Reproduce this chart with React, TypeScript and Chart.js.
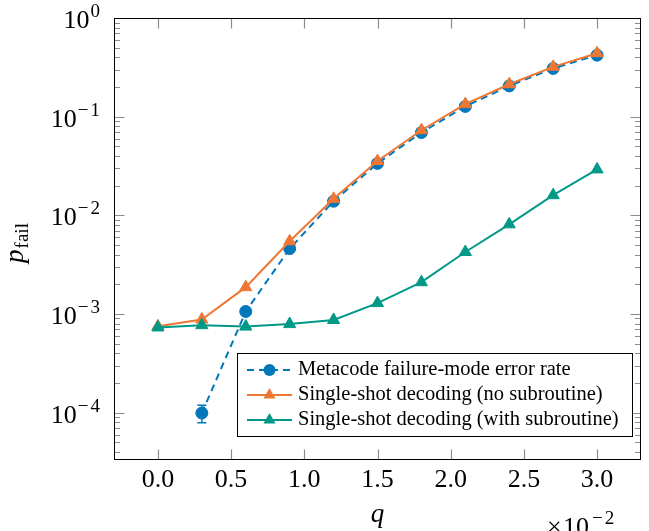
import React, { useEffect, useRef } from "react";
import { Chart, registerables } from "chart.js";

Chart.register(...registerables);

// ---- data ----
const qValues = [0, 0.3, 0.6, 0.9, 1.2, 1.5, 1.8, 2.1, 2.4, 2.7, 3.0];
const metacodeRate = [null, 9.9e-5, 1.06e-3, 4.6e-3, 1.39e-2, 3.36e-2, 6.9e-2, 0.127, 0.205, 0.308, 0.42];
const metacodeErr = [0, 2.0e-5, 0, 0, 0, 0, 0, 0, 0, 0, 0];
const noSubroutine = [7.5e-4, 8.8e-4, 1.87e-3, 5.45e-3, 1.47e-2, 3.55e-2, 7.28e-2, 0.134, 0.213, 0.32, 0.44];
const withSubroutine = [7.3e-4, 7.7e-4, 7.45e-4, 7.9e-4, 8.7e-4, 1.29e-3, 2.1e-3, 4.25e-3, 8.1e-3, 1.6e-2, 2.92e-2];

const seriesLabels = [
  "Metacode failure-mode error rate",
  "Single-shot decoding (no subroutine)",
  "Single-shot decoding (with subroutine)",
];
const xTickValues = [0, 0.5, 1.0, 1.5, 2.0, 2.5, 3.0];
const yTickExponents = [0, -1, -2, -3, -4];
const xMultiplierExponent = -2;
const xTitle = "q";
const yTitleMain = "p";
const yTitleSub = "fail";

const FONT = "'Liberation Serif', 'DejaVu Serif', serif";
const BLUE = "#0077BB";
const ORANGE = "#EE7733";
const TEAL = "#009988";
const TICK_COLOR = "#8c8c8c";
const BIG = 26;
const SUP = 19;

// draw a superscript exponent with a wide (CM-like) minus; returns width
function drawExp(ctx: any, e: number, x: number, y: number, measureOnly = false) {
  ctx.font = `${SUP}px ${FONT}`;
  let w = 0;
  const digits = String(Math.abs(e));
  if (e < 0) {
    const mw = ctx.measureText("\u2212").width;
    if (!measureOnly) ctx.fillText("\u2212", x, y);
    w += mw + 2;
  }
  const dw = ctx.measureText(digits).width;
  if (!measureOnly) ctx.fillText(digits, x + w, y);
  return w + dw;
}

export default function App() {
  const ref = useRef<HTMLCanvasElement>(null);

  useEffect(() => {
    document.body.style.margin = "0";
    const canvas = ref.current!;
    const mk = (arr: (number | null)[]) => qValues.map((x, i) => ({ x, y: arr[i] }));

    const decor = {
      id: "decor",
      beforeDatasetsDraw(chart: any) {
        const ctx = chart.ctx;
        const xs = chart.scales.x;
        const ys = chart.scales.y;
        ctx.save();
        ctx.strokeStyle = BLUE;
        ctx.lineWidth = 1.5;
        qValues.forEach((q, i) => {
          const v = metacodeRate[i];
          const e = metacodeErr[i];
          if (v == null || !e) return;
          const px = xs.getPixelForValue(q);
          const y1 = ys.getPixelForValue(v + e);
          const y2 = ys.getPixelForValue(v - e);
          ctx.beginPath();
          ctx.moveTo(px, y1);
          ctx.lineTo(px, y2);
          ctx.moveTo(px - 4.5, y1);
          ctx.lineTo(px + 4.5, y1);
          ctx.moveTo(px - 4.5, y2);
          ctx.lineTo(px + 4.5, y2);
          ctx.stroke();
        });
        ctx.restore();
      },
      afterDraw(chart: any) {
        const ctx = chart.ctx;
        const ca = chart.chartArea;
        const xs = chart.scales.x;
        const ys = chart.scales.y;
        ctx.save();

        // tick marks (inside, both sides)
        ctx.strokeStyle = TICK_COLOR;
        ctx.lineWidth = 1.2;
        ctx.beginPath();
        xTickValues.forEach((v) => {
          const px = Math.round(xs.getPixelForValue(v)) + 0.5;
          ctx.moveTo(px, ca.bottom);
          ctx.lineTo(px, ca.bottom - 10.5);
          ctx.moveTo(px, ca.top);
          ctx.lineTo(px, ca.top + 10.5);
        });
        const lo = Math.floor(Math.log10(ys.min));
        for (let e = lo; e <= 0; e++) {
          for (let m = 1; m <= 9; m++) {
            const v = m * Math.pow(10, e);
            if (v < ys.min || v > ys.max) continue;
            const py = Math.round(ys.getPixelForValue(v)) + 0.5;
            const len = m === 1 ? 10.5 : 6;
            ctx.moveTo(ca.left, py);
            ctx.lineTo(ca.left + len, py);
            ctx.moveTo(ca.right, py);
            ctx.lineTo(ca.right - len, py);
          }
        }
        ctx.stroke();

        // frame
        ctx.strokeStyle = "#000";
        ctx.lineWidth = 1;
        ctx.strokeRect(ca.left + 0.5, ca.top + 0.5, ca.right - ca.left - 1, ca.bottom - ca.top - 1);

        // y tick labels 10^e
        ctx.fillStyle = "#000";
        ctx.textBaseline = "alphabetic";
        ctx.textAlign = "left";
        yTickExponents.forEach((e) => {
          const py = ys.getPixelForValue(Math.pow(10, e));
          ctx.font = `${BIG}px ${FONT}`;
          const wb = ctx.measureText("10").width;
          const ws = drawExp(ctx, e, 0, 0, true);
          const right = ca.left - 14;
          const x0 = right - ws - 1 - wb;
          ctx.font = `${BIG}px ${FONT}`;
          ctx.fillText("10", x0, py + 10);
          drawExp(ctx, e, x0 + wb + 1, py - 1);
        });

        // y title p_fail
        ctx.save();
        ctx.translate(23, (ca.top + ca.bottom) / 2 + 4);
        ctx.rotate(-Math.PI / 2);
        ctx.font = `italic 27px ${FONT}`;
        const wp = ctx.measureText(yTitleMain).width;
        ctx.font = `${SUP}px ${FONT}`;
        const wf = ctx.measureText(yTitleSub).width;
        const start = -(wp + 1 + wf) / 2;
        ctx.font = `italic 27px ${FONT}`;
        ctx.fillText(yTitleMain, start, 0);
        ctx.font = `${SUP}px ${FONT}`;
        ctx.fillText(yTitleSub, start + wp + 1, 5);
        ctx.restore();

        // x title q
        ctx.font = `italic 27px ${FONT}`;
        ctx.textAlign = "center";
        ctx.fillText(xTitle, (ca.left + ca.right) / 2, 522);

        // multiplier x10^-2
        ctx.textAlign = "left";
        ctx.font = `${BIG}px ${FONT}`;
        ctx.fillText("\u00d7", 547, 535);
        ctx.fillText("10", 563, 535);
        const w10 = ctx.measureText("10").width;
        drawExp(ctx, xMultiplierExponent, 563 + w10 + 3, 524);

        // legend
        const lx = 237, ly = 353, lw = 396, lh = 84;
        ctx.fillStyle = "#fff";
        ctx.fillRect(lx, ly, lw, lh);
        ctx.strokeStyle = "#000";
        ctx.lineWidth = 1;
        ctx.strokeRect(lx + 0.5, ly + 0.5, lw - 1, lh - 1);
        const rows = [370, 395, 420];
        const styles = [
          { c: BLUE, dash: [7, 5], shape: "circle" },
          { c: ORANGE, dash: [], shape: "triangle" },
          { c: TEAL, dash: [], shape: "triangle" },
        ];
        rows.forEach((ry, i) => {
          const s = styles[i];
          ctx.strokeStyle = s.c;
          ctx.fillStyle = s.c;
          ctx.lineWidth = 2;
          ctx.setLineDash(s.dash);
          ctx.beginPath();
          ctx.moveTo(247, ry);
          ctx.lineTo(292, ry);
          ctx.stroke();
          ctx.setLineDash([]);
          ctx.beginPath();
          if (s.shape === "circle") {
            ctx.arc(269.5, ry, 6, 0, Math.PI * 2);
          } else {
            const r = 7;
            ctx.moveTo(269.5, ry - r);
            ctx.lineTo(269.5 + r * Math.sin((2 * Math.PI) / 3), ry + r / 2);
            ctx.lineTo(269.5 - r * Math.sin((2 * Math.PI) / 3), ry + r / 2);
            ctx.closePath();
          }
          ctx.fill();
          ctx.fillStyle = "#000";
          ctx.font = `20.5px ${FONT}`;
          ctx.textBaseline = "middle";
          ctx.fillText(seriesLabels[i], 298, ry);
        });
        ctx.restore();
      },
    };

    const chart = new Chart(canvas, {
      type: "line",
      data: {
        datasets: [
          {
            label: seriesLabels[0],
            data: mk(metacodeRate),
            borderColor: BLUE,
            backgroundColor: BLUE,
            borderWidth: 2,
            borderDash: [7, 5],
            pointStyle: "circle",
            pointRadius: 6,
            pointBorderWidth: 1,
            pointBackgroundColor: BLUE,
            tension: 0,
            order: 3,
          } as any,
          {
            label: seriesLabels[1],
            data: mk(noSubroutine),
            borderColor: ORANGE,
            backgroundColor: ORANGE,
            borderWidth: 2,
            pointStyle: "triangle",
            pointRadius: 7,
            pointBorderWidth: 1,
            pointBackgroundColor: ORANGE,
            tension: 0,
            order: 2,
          },
          {
            label: seriesLabels[2],
            data: mk(withSubroutine),
            borderColor: TEAL,
            backgroundColor: TEAL,
            borderWidth: 2,
            pointStyle: "triangle",
            pointRadius: 7,
            pointBorderWidth: 1,
            pointBackgroundColor: TEAL,
            tension: 0,
            order: 1,
          },
        ],
      },
      options: {
        responsive: false,
        animation: false,
        layout: { padding: { top: 18, right: 4, left: 0, bottom: 0 } },
        plugins: { legend: { display: false }, tooltip: { enabled: false } },
        scales: {
          x: {
            type: "linear",
            min: -0.3,
            max: 3.3,
            afterBuildTicks: (s: any) => {
              s.ticks = xTickValues.map((v) => ({ value: v }));
            },
            afterFit: (s: any) => {
              s.height = 71;
            },
            ticks: {
              font: { family: FONT, size: BIG },
              color: "#000",
              padding: 5,
              maxRotation: 0,
              autoSkip: false,
              callback: (v: any) => Number(v).toFixed(1),
            },
            grid: { display: false, drawTicks: false },
            border: { display: false },
          },
          y: {
            type: "logarithmic",
            min: Math.pow(10, -4.48),
            max: 1,
            afterFit: (s: any) => {
              s.width = 114;
            },
            ticks: { display: false },
            grid: { display: false, drawTicks: false },
            border: { display: false },
          },
        },
      },
      plugins: [decor],
    });
    return () => chart.destroy();
  }, []);

  return (
    <div style={{ position: "absolute", left: 0, top: 0, width: 649, height: 531 }}>
      <canvas ref={ref} width={649} height={531} style={{ width: 649, height: 531, display: "block" }} />
    </div>
  );
}
